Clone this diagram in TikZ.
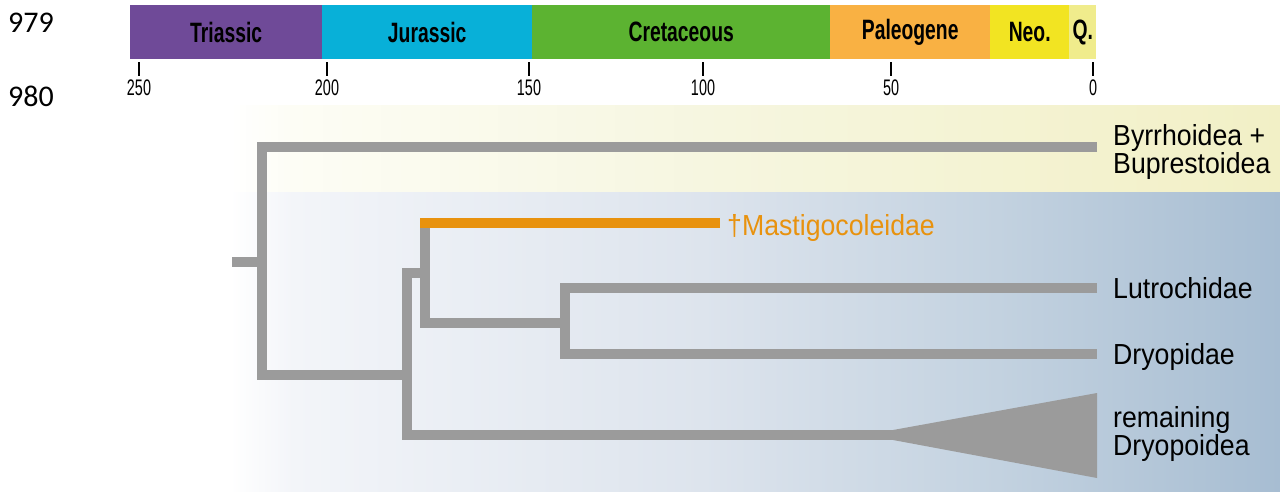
\documentclass[tikz,border=0pt]{standalone}
\usepackage{fontspec}
\setmainfont{Liberation Sans}
\newfontfamily\labfont[FakeStretch=0.92]{Liberation Sans}
\newfontfamily\perfont[FakeStretch=0.69]{Liberation Sans}
\newfontfamily\tickfont[FakeStretch=0.64]{Liberation Sans}
\newfontfamily\numfont{Carlito}
\definecolor{triassic}{HTML}{6F4A98}
\definecolor{jurassic}{HTML}{08B0D8}
\definecolor{cretaceous}{HTML}{5CB331}
\definecolor{paleogene}{HTML}{F9B143}
\definecolor{neogene}{HTML}{F2E422}
\definecolor{quaternary}{HTML}{F0EC8C}
\definecolor{treegray}{HTML}{9B9B9B}
\definecolor{fossil}{HTML}{E8920E}
\definecolor{ylA}{HTML}{FDFDF5}
\definecolor{ylB}{HTML}{F6F6E0}
\definecolor{ylC}{HTML}{F2F0C6}
\definecolor{blA}{HTML}{F3F5F9}
\definecolor{blB}{HTML}{DDE4ED}
\definecolor{blC}{HTML}{C3D2E0}
\definecolor{blD}{HTML}{A7BDD2}
\pgfdeclarehorizontalshading{yelbg}{100bp}{color(0bp)=(white); color(25bp)=(white); color(28bp)=(ylA); color(47.5bp)=(ylB); color(75bp)=(ylC); color(100bp)=(ylC)}
\pgfdeclarehorizontalshading{bluebg}{100bp}{color(0bp)=(white); color(25bp)=(white); color(28bp)=(blA); color(47.5bp)=(blB); color(61.5bp)=(blC); color(75bp)=(blD); color(100bp)=(blD)}
\begin{document}
\begin{tikzpicture}[x=1pt,y=-1pt,
  per/.style={anchor=north west, inner sep=0pt, minimum height=54pt,
    font=\perfont\bfseries\fontsize{28}{28}\selectfont, text=black},
  ticklab/.style={inner sep=0pt, font=\tickfont\fontsize{22.5}{22.5}\selectfont},
  tickmark/.style={draw=black, line width=2.5pt},
  branch/.style={draw=treegray, line width=10pt, line join=miter, line cap=butt},
  fossilbr/.style={draw=fossil, line width=10pt, line cap=butt},
  lab/.style={anchor=base west, inner sep=0pt, font=\labfont\fontsize{29}{29}\selectfont},
  num/.style={inner sep=0pt, font=\numfont\fontsize{30}{30}\selectfont}]
\useasboundingbox (0,0) rectangle (1280,491);

% background bands
\fill[shading=yelbg] (230,105) rectangle (1280,192);
\fill[shading=bluebg] (230,192) rectangle (1280,491);

% line numbers
\node[num] (l979) at (31,23) {979};
\node[num] (l980) at (31,96) {980};

% time bar
\node[per, fill=triassic, minimum width=192pt] (pTri) at (130,5) {Triassic};
\node[per, fill=jurassic, minimum width=210pt] (pJur) at (322,5) {Jurassic};
\node[per, fill=cretaceous, minimum width=298pt] (pCre) at (532,5) {Cretaceous};
\node[per, fill=paleogene, minimum width=160pt] (pPal) at (830,5) {Paleogene};
\node[per, fill=neogene, minimum width=79pt] (pNeo) at (990,5) {Neo.};
\node[per, fill=quaternary, minimum width=27pt] (pQ) at (1069,5) {Q.};

% ticks
\foreach \x/\v in {139/250, 327/200, 529/150, 703/100, 891/50, 1093/0}{
  \draw[tickmark] (\x,62) -- (\x,76);
  \node[ticklab] (t\v) at (\x,88) {\v};
}

% tree coordinates
\coordinate (root) at (232,262);
\coordinate (n1) at (262,262);
\coordinate (n2) at (407,375);
\coordinate (n3) at (425,273);
\coordinate (n4) at (565,323);
\coordinate (tByr) at (1097,147);
\coordinate (tMast) at (720,223);
\coordinate (tLut) at (1097,288);
\coordinate (tDry) at (1097,354);
\coordinate (tRem) at (895,435);

% tree branches
\draw[branch] (root) -- (n1);
\draw[branch] (tByr) -- (262,147) -- (n1) -- (262,375) -- (n2);
\draw[branch] (n3) -- (407,273) -- (407,435) -- (tRem);
\draw[branch] (425,223) -- (425,323) -- (n4);
\draw[branch] (tLut) -- (565,288) -- (565,354) -- (tDry);
\fill[treegray] (893,430) -- (1097,393) -- (1097,478) -- (893,440) -- cycle;
\draw[fossilbr] (420,223) -- (tMast);

% labels
\node[lab] (lByr) at (1113,145) {Byrrhoidea +};
\node[lab] (lBup) at (1113,173) {Buprestoidea};
\node[lab, text=fossil] (lMast) at (727,235) {†Mastigocoleidae};
\node[lab] (lLut) at (1113,298) {Lutrochidae};
\node[lab] (lDry) at (1113,364) {Dryopidae};
\node[lab] (lRem) at (1113,427) {remaining};
\node[lab] (lDpo) at (1113,455) {Dryopoidea};
\end{tikzpicture}
\end{document}
